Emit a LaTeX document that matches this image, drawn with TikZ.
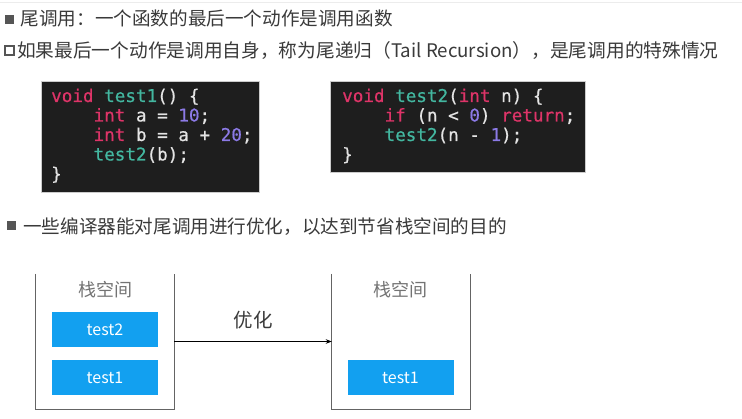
\documentclass[tikz,border=0pt]{standalone}
\usepackage{fontspec}
\setmainfont{Noto Sans CJK SC}
\newfontfamily\cjkfont{Noto Sans CJK SC}
\newfontfamily\codefont[FakeBold=0.6]{DejaVu Sans Mono}
\usetikzlibrary{arrows.meta}
\definecolor{headtext}{RGB}{58,58,58}
\definecolor{bulletgray}{RGB}{85,85,85}
\definecolor{codebg}{RGB}{30,30,30}
\definecolor{kw}{RGB}{222,52,104}
\definecolor{fn}{RGB}{67,183,160}
\definecolor{num}{RGB}{140,122,230}
\definecolor{plain}{RGB}{228,228,228}
\definecolor{stackline}{RGB}{100,100,100}
\definecolor{stacklabel}{RGB}{115,115,115}
\definecolor{blockblue}{RGB}{18,160,240}
\tikzset{
  heading/.style={anchor=base west, inner sep=0pt, text=headtext, font=\cjkfont\fontsize{18.6}{20}\selectfont},
  codebox/.style={fill=codebg, draw=gray!40, line width=0.6pt, inner sep=0pt},
  codeline/.style={anchor=base west, inner sep=0pt, text=plain, font=\codefont\fontsize{17.6}{19}\selectfont},
  stackbox/.style={minimum width=138pt, minimum height=135pt, inner sep=0pt},
  stackwall/.style={draw=stackline, line width=1.1pt},
  block/.style={fill=blockblue, minimum width=106pt, minimum height=35pt, inner sep=0pt, text=white, font=\cjkfont\fontsize{16}{18}\selectfont},
  stacklbl/.style={text=stacklabel, inner sep=0pt, font=\cjkfont\fontsize{18}{20}\selectfont},
}
\begin{document}
\begin{tikzpicture}[x=1pt,y=-1pt]
\useasboundingbox (0,0) rectangle (742,419);
\fill[white] (0,0) rectangle (742,419);
\draw[gray!15, line width=0.8pt] (0,2.5) -- (742,2.5);

% headings
\fill[bulletgray] (5,15) rectangle (13.5,24);
\node[heading] (h1) at (20.5,25.5) {尾调用：一个函数的最后一个动作是调用函数};
\draw[bulletgray, line width=2pt] (5.2,45.9) rectangle (14,54.7);
\node[heading, font=\cjkfont\fontsize{18.7}{20}\selectfont] (h2) at (17,58) {如果最后一个动作是调用自身，称为尾递归（Tail Recursion），是尾调用的特殊情况};
\fill[bulletgray] (7,221.5) rectangle (16,230.5);
\node[heading] (h3) at (23,233.5) {一些编译器能对尾调用进行优化，以达到节省栈空间的目的};

% code box 1
\node[codebox, minimum width=218pt, minimum height=111pt, anchor=north west] (cb1) at (41,81) {};
\node[codeline] (c11) at (51,102) {\textcolor{kw}{void} \textcolor{fn}{test1}() \{};
\node[codeline] (c12) at (93.4,121.5) {\textcolor{kw}{int} a = \textcolor{num}{10};};
\node[codeline] (c13) at (93.4,141) {\textcolor{kw}{int} b = a + \textcolor{num}{20};};
\node[codeline] (c14) at (93.4,160.5) {\textcolor{fn}{test2}(b);};
\node[codeline] (c15) at (51,180) {\}};

% code box 2
\node[codebox, minimum width=255pt, minimum height=91pt, anchor=north west] (cb2) at (330,81) {};
\node[codeline] (c21) at (342,102) {\textcolor{kw}{void} \textcolor{fn}{test2}(\textcolor{kw}{int} n) \{};
\node[codeline] (c22) at (384.4,121.5) {\textcolor{kw}{if} (n < \textcolor{num}{0}) \textcolor{kw}{return};};
\node[codeline] (c23) at (384.4,141) {\textcolor{fn}{test2}(n - \textcolor{num}{1});};
\node[codeline] (c24) at (342,160.5) {\}};

% stacks
\node[stackbox] (s1) at (105,341.5) {};
\node[stackbox] (s2) at (401,341.5) {};
\draw[stackwall] (s1.north west) -- (s1.south west) -- (s1.south east) -- (s1.north east);
\draw[stackwall] (s2.north west) -- (s2.south west) -- (s2.south east) -- (s2.north east);
\node[stacklbl] (l1) at (105,290) {栈空间};
\node[stacklbl] (l2) at (400,290) {栈空间};
\node[block] (b12) at (105,329.5) {test2};
\node[block] (b11) at (105,377.5) {test1};
\node[block] (b21) at (400.5,377.5) {test1};

% arrow
\draw[black, line width=0.7pt, -{Stealth[length=6pt,width=4.5pt]}] (s1.east) -- (s2.west);
\node[text=headtext, inner sep=0pt, font=\cjkfont\fontsize{19.5}{21}\selectfont] (opt) at (253,320) {优化};
\end{tikzpicture}
\end{document}
